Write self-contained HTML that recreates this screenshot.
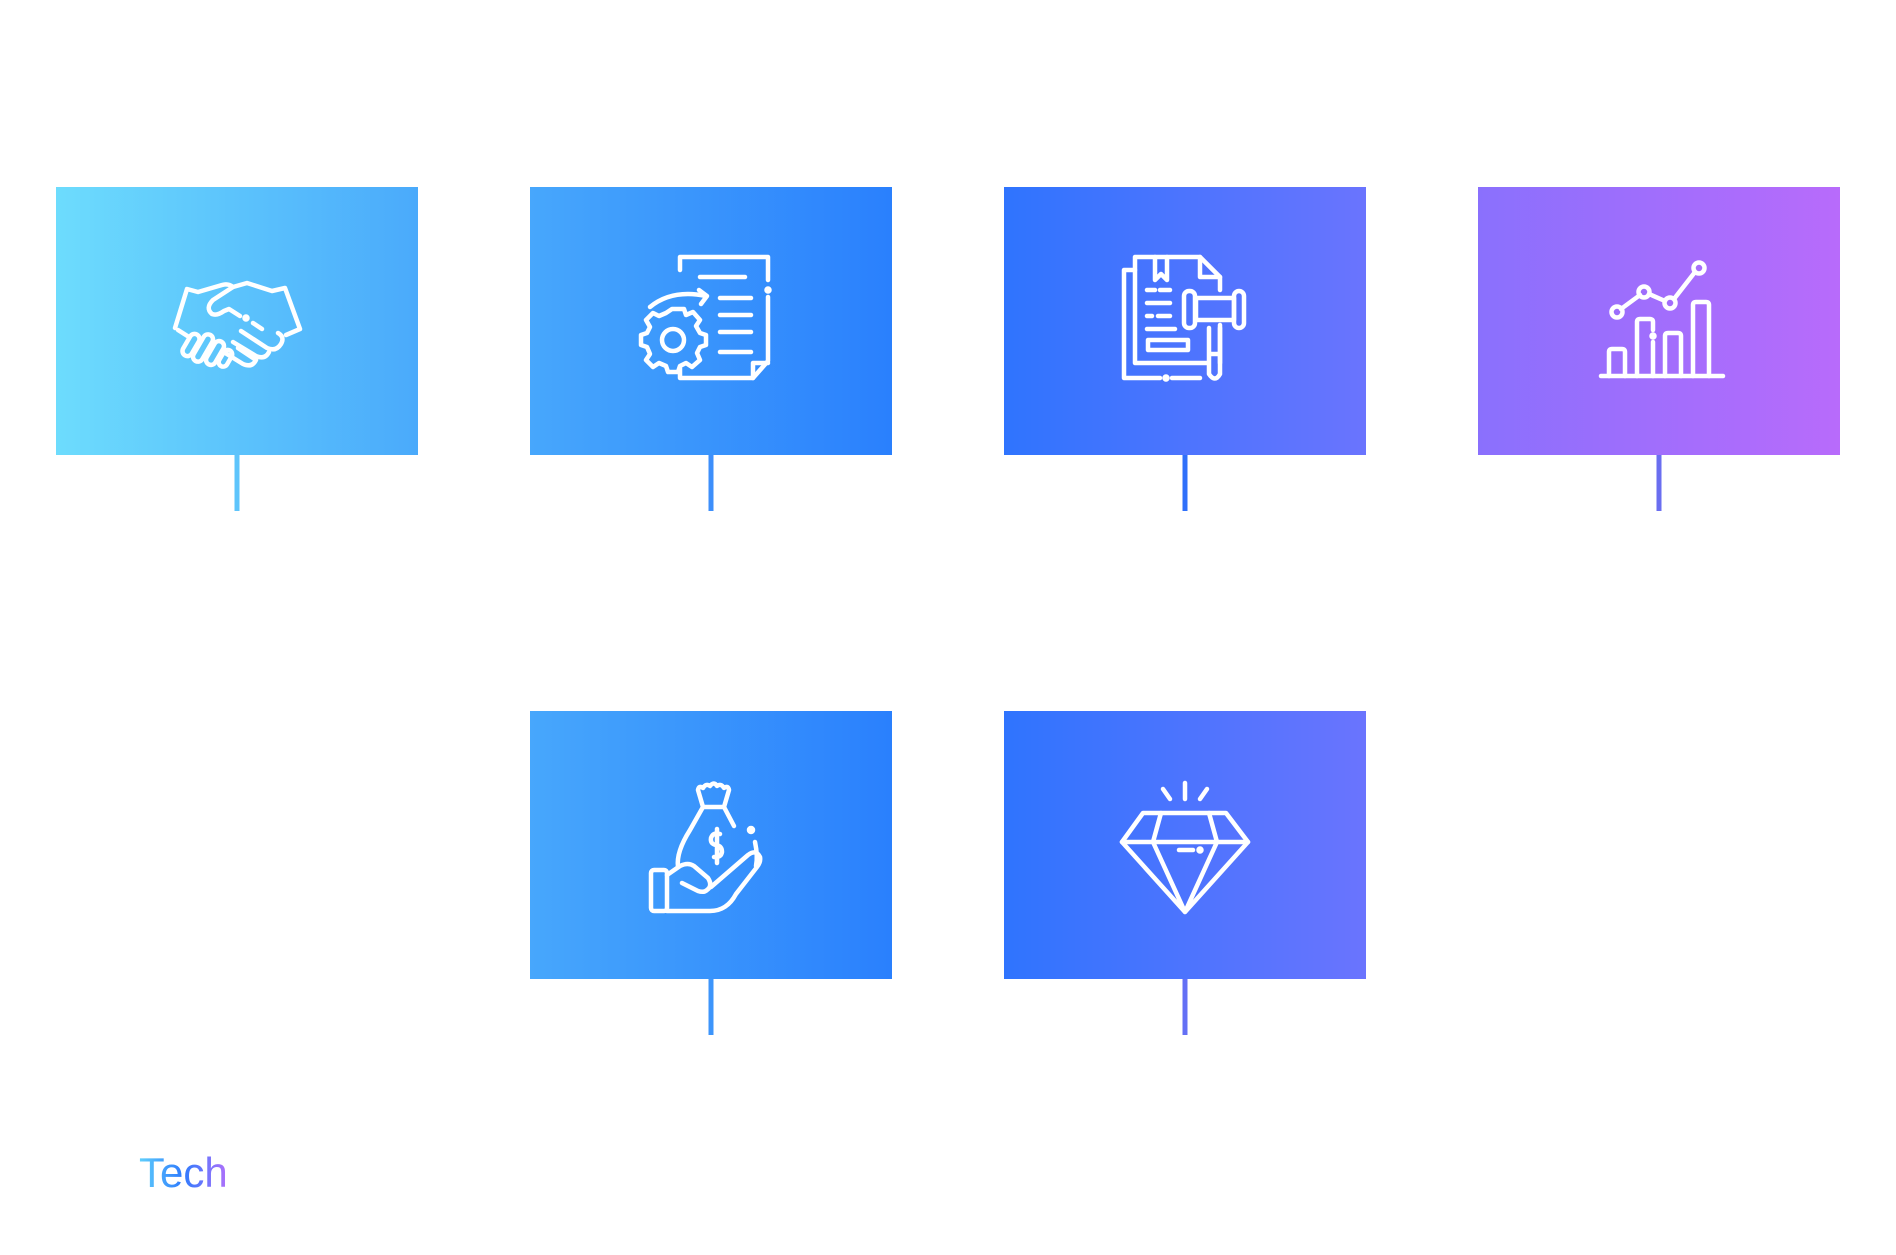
<!DOCTYPE html>
<html><head><meta charset="utf-8"><style>
html,body{margin:0;padding:0;background:#fff;width:1896px;height:1255px;overflow:hidden}
svg{display:block}
</style></head><body>
<svg width="1896" height="1255" viewBox="0 0 1896 1255" xmlns="http://www.w3.org/2000/svg">
<defs>
<linearGradient id="g1" x1="0" x2="1" y1="0" y2="0"><stop offset="0" stop-color="#6ddcfd"/><stop offset="1" stop-color="#4aaafb"/></linearGradient>
<linearGradient id="g2" x1="0" x2="1" y1="0" y2="0"><stop offset="0" stop-color="#47a7fc"/><stop offset="1" stop-color="#2a80fd"/></linearGradient>
<linearGradient id="g3" x1="0" x2="1" y1="0" y2="0"><stop offset="0" stop-color="#2f74fe"/><stop offset="1" stop-color="#6a74fe"/></linearGradient>
<linearGradient id="g4" x1="0" x2="1" y1="0" y2="0"><stop offset="0" stop-color="#8a70fd"/><stop offset="1" stop-color="#b86bfb"/></linearGradient>
<linearGradient id="gt" x1="0" x2="1" y1="0" y2="0"><stop offset="0" stop-color="#5fd0fc"/><stop offset="0.5" stop-color="#2f7bfd"/><stop offset="1" stop-color="#b070fb"/></linearGradient>
</defs>
<rect x="56" y="187" width="362" height="268" fill="url(#g1)"/>
<rect x="530" y="187" width="362" height="268" fill="url(#g2)"/>
<rect x="1004" y="187" width="362" height="268" fill="url(#g3)"/>
<rect x="1478" y="187" width="362" height="268" fill="url(#g4)"/>
<rect x="530" y="711" width="362" height="268" fill="url(#g2)"/>
<rect x="1004" y="711" width="362" height="268" fill="url(#g3)"/>
<rect x="234.5" y="455" width="5" height="56" fill="#5ec4fb"/>
<rect x="708.5" y="455" width="5" height="56" fill="#3d8ffb"/>
<rect x="1182.5" y="455" width="5" height="56" fill="#2f70fa"/>
<rect x="1656.5" y="455" width="5" height="56" fill="#6a6ef0"/>
<rect x="708.5" y="979" width="5" height="56" fill="#3d95fb"/>
<rect x="1182.5" y="979" width="5" height="56" fill="#6470f5"/>

<g fill="none" stroke="#fff" stroke-width="4.5" stroke-linecap="round" stroke-linejoin="round">
<!-- handshake -->
<path d="M175 328 L187 289 L198 292 L222 285 Q228 283 233 287 M233 287 L247 283 L272 291 L285 288 L300 329 L286 335"/>
<path d="M233 287 L213 300 Q205 308 212 314 Q217 316 224 311 L229 309 L240 316"/>
<circle cx="246" cy="318" r="1.5" fill="#fff"/>
<path d="M253 323 L262 329 M241 331 L267 348 Q276 352 281 344 Q285 337 278 333 M233 342 L256 356 Q265 360 269 352 M222 351 L243 364 Q252 368 256 360 L238 348 M178 330 L189 337"/>
<rect x="186" y="333" width="10" height="24" rx="5" transform="rotate(30 191 345)"/>
<rect x="198" y="333" width="10" height="30" rx="5" transform="rotate(30 203 348)"/>
<rect x="210" y="340" width="10" height="26" rx="5" transform="rotate(30 215 353)"/>
<rect x="221" y="349" width="9" height="18" rx="4.5" transform="rotate(30 225 358)"/>

<!-- doc gear -->
<path d="M680 270 L680 257 L768 257 L768 280 M768 297 L768 361 L753 378 L680 378 L680 368"/>
<path d="M753 378 L753 363 L768 363"/>
<circle cx="768" cy="290" r="1.5" fill="#fff"/>
<path d="M700 277 L745 277 M720 298 L751 298 M720 315 L751 315 M720 332 L751 332 M720 352 L751 352"/>
<path d="M650 307 Q672 289 706 296 M699 290 L707 296 L701 304"/>
<path d="M672 309 L684 309 L686 315 L693 312 L700 320 L696 326 L700 333 L706 335 L706 345 L700 347 L697 353 L700 360 L692 367 L686 363 L680 366 L678 372 L668 372 L666 366 L659 363 L653 367 L646 360 L650 354 L647 347 L641 345 L641 335 L647 333 L650 327 L646 320 L653 313 L659 316 L666 313 Z"/>
<circle cx="673" cy="340" r="11"/>

<!-- doc gavel -->
<path d="M1135 270 L1124 270 L1124 378 L1160 378 M1172 378 L1200 378"/>
<circle cx="1166" cy="378" r="1.5" fill="#fff"/>
<path d="M1208 363 L1135 363 L1135 257 L1200 257 L1220 277 L1220 290 M1220 325 L1220 363"/>
<path d="M1200 257 L1200 277 L1220 277"/>
<path d="M1155 257 L1155 280 L1161 274 L1167 280 L1167 257"/>
<path d="M1147 290 L1155 290 M1160 290 L1170 290 M1147 303 L1170 303 M1147 316 L1152 316 M1158 316 L1170 316 M1147 329 L1175 329"/>
<rect x="1148" y="340" width="40" height="10"/>
<rect x="1196" y="298" width="38" height="22"/>
<rect x="1184" y="291" width="11" height="37" rx="5"/>
<rect x="1234" y="291" width="10" height="37" rx="5"/>
<path d="M1209 328 L1209 374 Q1215 383 1220 374 L1220 328 M1209 354 L1220 354"/>

<!-- chart -->
<path d="M1601 376 L1723 376"/>
<path d="M1609 376 L1609 352 Q1609 349 1612 349 L1622 349 Q1625 349 1625 352 L1625 376"/>
<path d="M1637 376 L1637 322 Q1637 319 1640 319 L1650 319 Q1653 319 1653 322 L1653 330 M1653 342 L1653 376"/>
<circle cx="1653" cy="336" r="1.5" fill="#fff"/>
<path d="M1665 376 L1665 336 Q1665 333 1668 333 L1678 333 Q1681 333 1681 336 L1681 376"/>
<path d="M1693 376 L1693 305 Q1693 302 1696 302 L1706 302 Q1709 302 1709 305 L1709 376"/>
<circle cx="1617" cy="312" r="5.5"/><circle cx="1644" cy="292" r="5.5"/><circle cx="1670" cy="303" r="5.5"/><circle cx="1699" cy="268" r="5.5"/>
<path d="M1621 309 L1640 295 M1649 294 L1665 301 M1674 299 L1695 272"/>

<!-- money hand -->
<path d="M703 807 L698 790 Q699 785 703 788 Q706 783 710 786 Q714 781 717 786 Q721 783 724 788 Q728 785 729 790 L724 807 Z"/>
<path d="M703 807 L690 830 Q676 852 678 867 M724 807 L734 826"/>
<circle cx="751" cy="830" r="2" fill="#fff"/>
<path d="M755 842 Q758 856 756 866"/>
<path d="M720 834 Q713 832 711 838 Q710 844 716 845 Q722 846 722 852 Q721 858 714 857 M717 829 L717 863"/>
<rect x="651" y="870" width="16" height="41" rx="3"/>
<path d="M667 875 L680 866 Q688 862 694 866 L708 878 Q713 886 707 890 Q704 893 698 891 L682 883"/>
<path d="M711 887 L748 855 Q756 849 760 857 Q761 862 757 867 L736 894 Q727 911 710 911 L667 911"/>

<!-- diamond -->
<path d="M1143 813 L1226 813 L1248 842 L1185 912 L1122 842 Z"/>
<path d="M1122 842 L1248 842 M1161 813 L1153 842 L1185 912 L1217 842 L1209 813"/>
<path d="M1179 850 L1193 850"/><circle cx="1200" cy="850" r="1.5" fill="#fff"/>
<path d="M1185 783 L1185 799 M1163 789 L1170 799 M1207 789 L1200 799"/>
</g>

<text x="139" y="1187" font-family="Liberation Sans, sans-serif" font-size="42" fill="url(#gt)">Tech</text>
</svg>
</body></html>
